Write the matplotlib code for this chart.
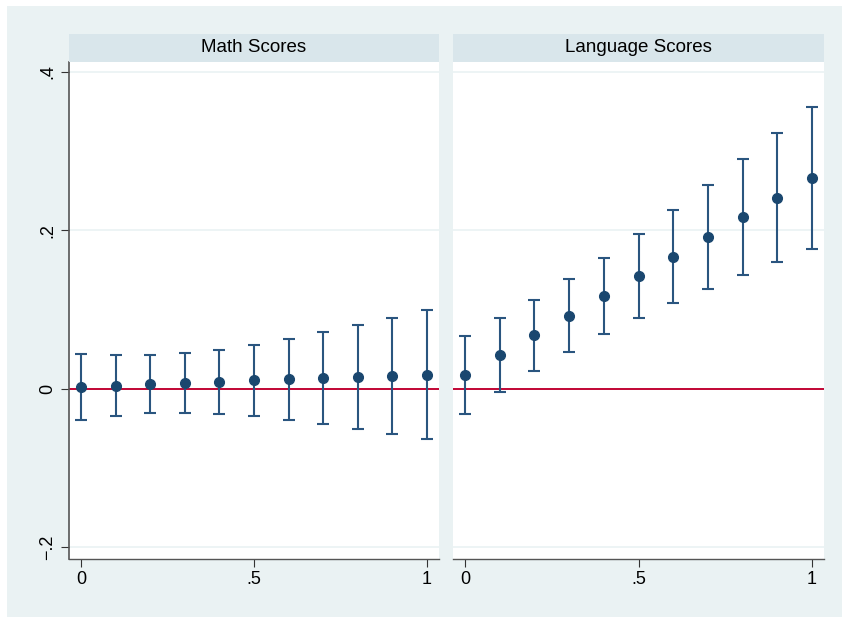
import matplotlib.pyplot as plt
from matplotlib.patches import Rectangle

plt.rcParams["font.family"] = ["Liberation Sans", "DejaVu Sans"]

# coefficient estimates with 95% CI
x_vals = [0, 0.1, 0.2, 0.3, 0.4, 0.5, 0.6, 0.7, 0.8, 0.9, 1.0]

math_est = [0.0020, 0.0038, 0.0055, 0.0067, 0.0088, 0.0105, 0.0118, 0.0130, 0.0147, 0.0164, 0.0177]
math_hi = [0.0442, 0.0420, 0.0420, 0.0446, 0.0488, 0.0551, 0.0627, 0.0710, 0.0803, 0.0892, 0.0993]
math_lo = [-0.0395, -0.0345, -0.0311, -0.0303, -0.0320, -0.0349, -0.0391, -0.0446, -0.0505, -0.0572, -0.0635]

lang_est = [0.0177, 0.0425, 0.0673, 0.0921, 0.1170, 0.1417, 0.1666, 0.1918, 0.2166, 0.2414, 0.2662]
lang_hi = [0.0669, 0.0887, 0.1123, 0.1380, 0.1653, 0.1952, 0.2259, 0.2574, 0.2898, 0.3230, 0.3562]
lang_lo = [-0.0315, -0.0038, 0.0223, 0.0463, 0.0685, 0.0887, 0.1077, 0.1258, 0.1430, 0.1599, 0.1763]

panel_titles = ["Math Scores", "Language Scores"]
xticks = [0, 0.5, 1]
xtick_labels = ["0", ".5", "1"]
yticks = [-0.2, 0, 0.2, 0.4]
ytick_labels = ["\u2212.2", "0", ".2", ".4"]

W, H = 842, 617
BG = "#eaf2f3"
STRIP = "#d9e6eb"
NAVY = "#1a476f"
RED = "#c10534"

fig = plt.figure(figsize=(W / 100, H / 100), dpi=100, facecolor="white")
fig.patches.append(Rectangle((7 / W, 0), 1 - 7 / W, 1 - 6 / H, transform=fig.transFigure,
                             facecolor=BG, edgecolor="none", zorder=-10))


def px_axes(x0, y0, x1, y1):
    # pixel box (top-left origin) -> figure axes
    return fig.add_axes([x0 / W, 1 - y1 / H, (x1 - x0) / W, (y1 - y0) / H])


panels = [
    (69, 439, math_est, math_lo, math_hi),
    (453, 824, lang_est, lang_lo, lang_hi),
]

for i, (left, right, est, lo, hi) in enumerate(panels):
    ax = px_axes(left, 62, right, 559)
    ax.set_facecolor("white")
    ax.set_xlim(-0.0345, 1.0345)
    ax.set_ylim(-0.2151, 0.4126)

    for yt in yticks:
        ax.axhline(yt, color=BG, lw=1.2, zorder=0)
    ax.axhline(0, color=RED, lw=1.4, zorder=1)

    err_lo = [e - l for e, l in zip(est, lo)]
    err_hi = [h - e for e, h in zip(est, hi)]
    ax.errorbar(x_vals, est, yerr=[err_lo, err_hi], fmt="o", color=NAVY,
                ecolor="#2a557f", elinewidth=1.5, capsize=4.5, capthick=1.5,
                markersize=7, zorder=3)

    ax.set_xticks(xticks)
    ax.set_xticklabels(xtick_labels, fontsize=13)
    ax.tick_params(axis="x", length=6, width=0.8, color="#333333", pad=3)
    for s in ["top", "right"]:
        ax.spines[s].set_visible(False)
    ax.spines["bottom"].set_color("#555555")
    ax.spines["bottom"].set_linewidth(1.0)

    if i == 0:
        ax.set_yticks(yticks)
        ax.set_yticklabels(ytick_labels, fontsize=13, rotation=90, va="center")
        ax.tick_params(axis="y", length=6, width=0.8, color="#333333", pad=3)
        ax.spines["left"].set_color("#555555")
        ax.spines["left"].set_linewidth(1.2)
    else:
        ax.set_yticks([])
        ax.spines["left"].set_visible(False)

    # panel header strip
    sax = px_axes(left, 34, right, 62)
    sax.set_facecolor(STRIP)
    sax.set_xticks([])
    sax.set_yticks([])
    for s in sax.spines.values():
        s.set_visible(False)
    sax.text(0.5, 0.5, panel_titles[i], ha="center", va="center", fontsize=13.5,
             transform=sax.transAxes)

fig.savefig("out.png", dpi=100, facecolor="white")
